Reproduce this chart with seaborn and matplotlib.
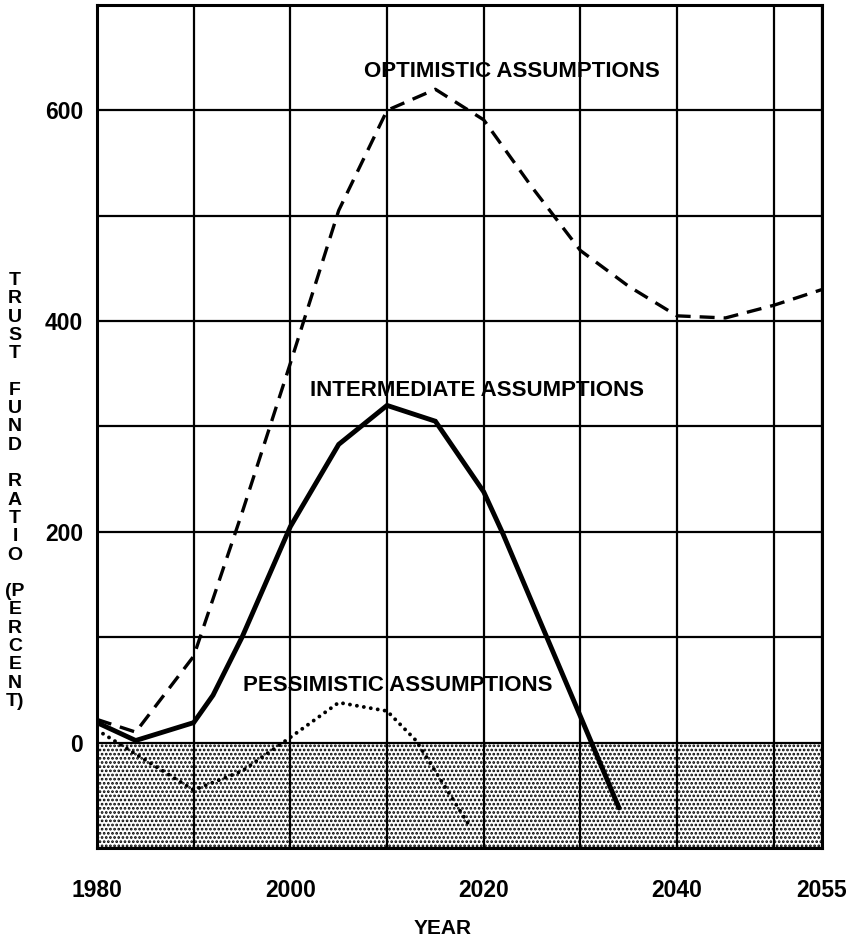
import numpy as np
import pandas as pd
import seaborn as sns
import matplotlib.pyplot as plt

# trust fund ratio projections (percent)
opt_years = [1980, 1984, 1990, 1995, 2000, 2005, 2010, 2015, 2020, 2025, 2030, 2035, 2040, 2045, 2050, 2055]
opt_vals = [22, 10, 82, 218, 360, 505, 600, 620, 591, 527, 467, 433, 405, 403, 415, 430]

int_years = [1980, 1984, 1990, 1992, 1995, 2000, 2005, 2010, 2015, 2020, 2022, 2025, 2030, 2034]
int_vals = [19, 2, 19, 45, 100, 205, 283, 320, 305, 238, 198, 133, 25, -62]

pes_years = [1980, 1990, 1995, 2000, 2005, 2010, 2013, 2018.6]
pes_vals = [12, -45, -27, 5, 38, 30, 2, -80]

x_ticks = [1980, 1990, 2000, 2010, 2020, 2030, 2040, 2050, 2055]
x_labels = ['1980', '', '2000', '', '2020', '', '2040', '', '2055']
y_ticks = [-100, 0, 100, 200, 300, 400, 500, 600, 700]
y_labels = ['', '0', '', '200', '', '400', '', '600', '']

sns.set_style('white')
plt.rcParams['font.family'] = ['Liberation Sans', 'DejaVu Sans']
plt.rcParams['text.color'] = 'black'
plt.rcParams['xtick.color'] = 'black'
plt.rcParams['ytick.color'] = 'black'
plt.rcParams['axes.labelcolor'] = 'black'
plt.rcParams['hatch.linewidth'] = 1.3

fig = plt.figure(figsize=(8.54, 9.39), dpi=100)
ax = fig.add_axes([0.1136, 0.0969, 0.849, 0.8978])

# shaded deficit zone
ax.axhspan(-100, 0, facecolor='white', edgecolor='black', hatch='....', linewidth=0, zorder=0)

opt = pd.DataFrame({'year': opt_years, 'ratio': opt_vals})
mid = pd.DataFrame({'year': int_years, 'ratio': int_vals})
pes = pd.DataFrame({'year': pes_years, 'ratio': pes_vals})

sns.lineplot(data=opt, x='year', y='ratio', ax=ax, color='black', linewidth=2.4,
             linestyle=(0, (4.5, 2.7)), zorder=3)
sns.lineplot(data=mid, x='year', y='ratio', ax=ax, color='black', linewidth=3.5,
             solid_joinstyle='miter', zorder=3)
sns.lineplot(data=pes, x='year', y='ratio', ax=ax, color='black', linewidth=2.8,
             linestyle=(0, (0.01, 1.8)), dash_capstyle='round', zorder=3)

ax.set_xlim(1980, 2055)
ax.set_ylim(-100, 700)
ax.set_xticks(x_ticks)
ax.set_xticklabels(x_labels)
ax.set_yticks(y_ticks)
ax.set_yticklabels(y_labels)
ax.grid(True, color='black', linewidth=1.6)
ax.set_axisbelow(True)
ax.tick_params(axis='both', length=0, labelsize=16.5)
ax.tick_params(axis='x', pad=22)
ax.tick_params(axis='y', pad=10)
for lab in ax.get_xticklabels() + ax.get_yticklabels():
    lab.set_fontweight('bold')
for s in ax.spines.values():
    s.set_color('black')
    s.set_linewidth(2.2)

ax.set_xlabel('YEAR', fontsize=15, fontweight='bold')
ax.xaxis.set_label_coords(0.477, -0.084)
ax.set_ylabel('')

# vertical stacked axis title
words = ['TRUST', 'FUND', 'RATIO', '(PERCENT)']
lines = []
for w in words:
    letters = list(w)
    if letters[0] == '(':
        letters = ['(' + letters[1]] + letters[2:]
    if letters[-1] == ')':
        letters = letters[:-2] + [letters[-2] + ')']
    if lines:
        lines.append(' ')
    lines.extend(letters)
fig.text(15 / 854, 1 - 491 / 939, '\n'.join(lines), fontsize=14, fontweight='bold',
         ha='center', va='center', linespacing=1.1)

ax.text(2022.9, 637, 'OPTIMISTIC ASSUMPTIONS', fontsize=16, fontweight='bold', ha='center', va='center')
ax.text(2019.3, 334, 'INTERMEDIATE ASSUMPTIONS', fontsize=16, fontweight='bold', ha='center', va='center')
ax.text(2011.1, 54, 'PESSIMISTIC ASSUMPTIONS', fontsize=16, fontweight='bold', ha='center', va='center')

fig.savefig('out.png', dpi=100)
